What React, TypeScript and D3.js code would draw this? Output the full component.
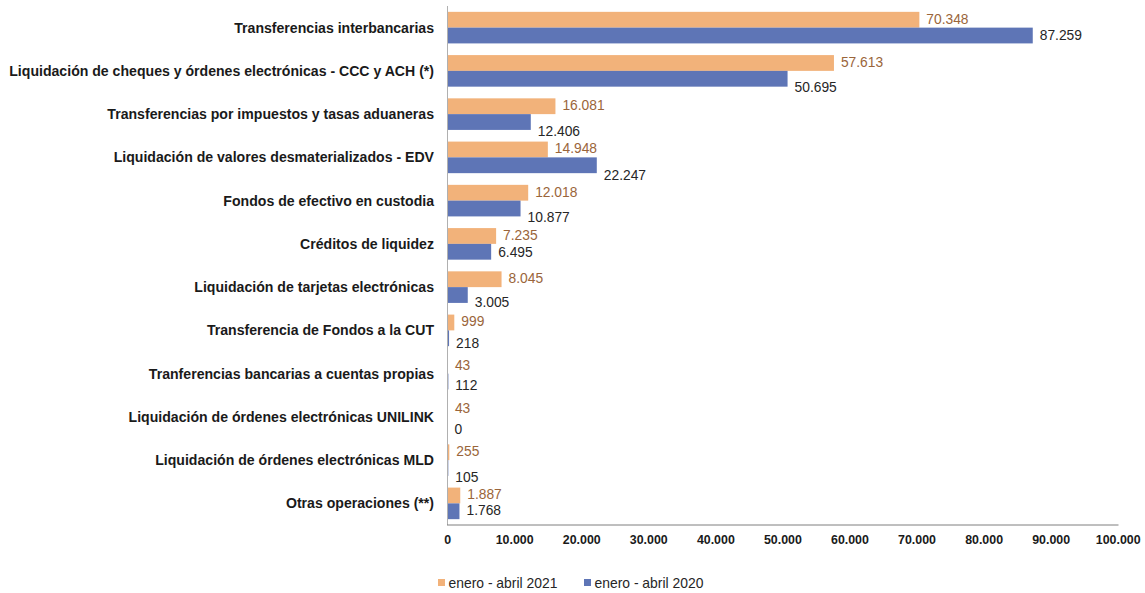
import React from "react";
import * as d3 from "d3";

const categories = [
  "Transferencias interbancarias",
  "Liquidación de cheques y órdenes electrónicas - CCC y ACH (*)",
  "Transferencias por impuestos y tasas aduaneras",
  "Liquidación de valores desmaterializados - EDV",
  "Fondos de efectivo en custodia",
  "Créditos de liquidez",
  "Liquidación de tarjetas electrónicas",
  "Transferencia de Fondos a la CUT",
  "Tranferencias bancarias a cuentas propias",
  "Liquidación de órdenes electrónicas UNILINK",
  "Liquidación de órdenes electrónicas MLD",
  "Otras operaciones (**)",
];

const seriesNames = ["enero - abril 2021", "enero - abril 2020"];
const values2021 = [70348, 57613, 16081, 14948, 12018, 7235, 8045, 999, 43, 43, 255, 1887];
const values2020 = [87259, 50695, 12406, 22247, 10877, 6495, 3005, 218, 112, 0, 105, 1768];
const xTicks = [0, 10000, 20000, 30000, 40000, 50000, 60000, 70000, 80000, 90000, 100000];

// layout-only: vertical nudges of the 2020 value labels (as placed in the original)
const label2020Nudge = [0, 9, 9, 10, 9, 1, 7, 5, 4, 5, 9, -1];

const W = 1145;
const H = 593;
const COLORS = ["#F2B27A", "#5E75B6"];
const LABEL_COLORS = ["#9A653A", "#262626"];
const FONT = "'Liberation Sans', Arial, sans-serif";

const fmt = (v: number) =>
  d3.format(",")(v).replace(/,/g, ".");

export default function App() {
  const x = d3.scaleLinear().domain([0, 100000]).range([447.6, 1118.2]);
  const y = d3
    .scaleBand<string>()
    .domain(categories)
    .range([6, 525])
    .paddingInner(0.27)
    .paddingOuter(0.135);
  const sub = d3
    .scaleBand<string>()
    .domain(seriesNames)
    .range([0, y.bandwidth()]);
  const series = [values2021, values2020];

  return (
    <svg
      width={W}
      height={H}
      style={{ position: "absolute", left: 0, top: 0, background: "#fff" }}
      fontFamily={FONT}
    >
      {/* bars */}
      {series.map((vals, si) =>
        vals.map((v, i) => (
          <rect
            key={`b${si}-${i}`}
            x={x(0)}
            y={(y(categories[i]) as number) + (sub(seriesNames[si]) as number)}
            width={Math.max(0, x(v) - x(0))}
            height={sub.bandwidth()}
            fill={COLORS[si]}
          />
        ))
      )}
      {/* axes */}
      <line x1={447.5} x2={447.5} y1={6} y2={525} stroke="#B0B0B0" strokeWidth={1} />
      <line x1={447} x2={1118.5} y1={525} y2={525} stroke="#7F7F7F" strokeWidth={1} />
      {xTicks.map((t) => (
        <text
          key={`t${t}`}
          x={x(t)}
          y={540}
          textAnchor="middle"
          dominantBaseline="central"
          fontSize={12.4}
          fontWeight="bold"
          fill="#1a1a1a"
        >
          {fmt(t)}
        </text>
      ))}
      {/* category labels */}
      {categories.map((c) => (
        <text
          key={`c${c}`}
          x={434}
          y={(y(c) as number) + y.bandwidth() / 2}
          textAnchor="end"
          dominantBaseline="central"
          fontSize={14.1}
          fontWeight="bold"
          fill="#1a1a1a"
        >
          {c}
        </text>
      ))}
      {/* value labels */}
      {series.map((vals, si) =>
        vals.map((v, i) => (
          <text
            key={`l${si}-${i}`}
            x={x(v) + 7}
            y={
              (y(categories[i]) as number) +
              (sub(seriesNames[si]) as number) +
              sub.bandwidth() / 2 +
              (si === 1 ? label2020Nudge[i] : -0.5)
            }
            dominantBaseline="central"
            fontSize={13.8}
            fill={LABEL_COLORS[si]}
          >
            {fmt(v)}
          </text>
        ))
      )}
      {/* legend */}
      {seriesNames.map((s, si) => {
        const lx = si === 0 ? 438 : 584;
        return (
          <g key={`lg${si}`}>
            <rect x={lx} y={579} width={7} height={7} fill={COLORS[si]} />
            <text
              x={lx + 10.5}
              y={583}
              dominantBaseline="central"
              fontSize={13.9}
              fill="#262626"
            >
              {s}
            </text>
          </g>
        );
      })}
    </svg>
  );
}
